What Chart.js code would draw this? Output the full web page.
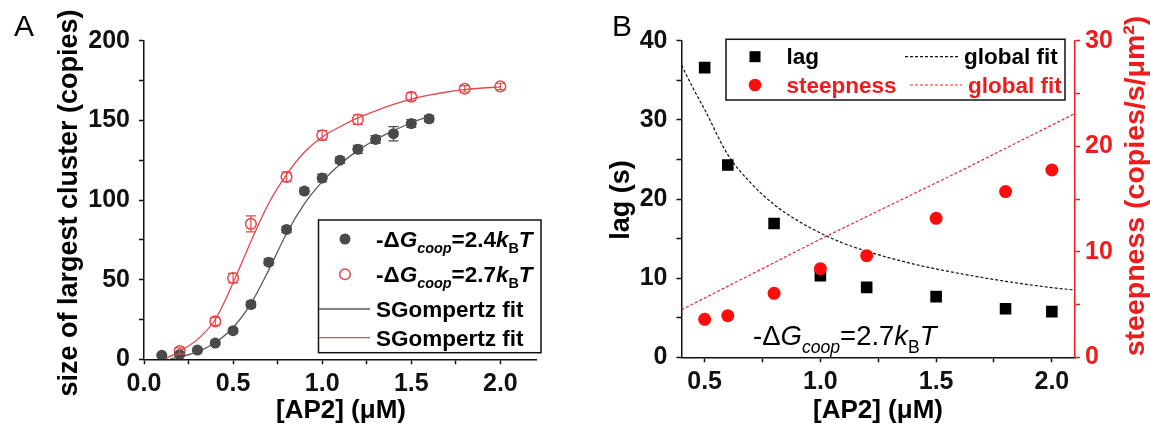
<!DOCTYPE html>
<html>
<head>
<meta charset="utf-8">
<script src="https://cdn.jsdelivr.net/npm/chart.js@4.4.0/dist/chart.umd.min.js"></script>
<style>
  html, body { margin: 0; padding: 0; background: #fff; }
  #wrap { position: relative; width: 1150px; height: 433px; }
  canvas { position: absolute; top: 0; }
</style>
</head>
<body>
<div id="wrap">
  <canvas id="chartA" width="575" height="433" style="left:0"></canvas>
  <canvas id="chartB" width="575" height="433" style="left:575px"></canvas>
</div>
<script>
// ---- panel A: size of largest cluster vs [AP2] ----
const conc24 = [0.1, 0.2, 0.3, 0.4, 0.5, 0.6, 0.7, 0.8, 0.9, 1.0, 1.1, 1.2, 1.3, 1.4, 1.5, 1.6];
const size24 = [2.5, 3, 5.8, 10.2, 18, 34.4, 61, 81.5, 105.6, 113.8, 125, 131.8, 138, 141.6, 148, 151];
const err24  = [1, 1, 1, 1.2, 1.5, 2, 2, 2, 2, 2.5, 2, 2.5, 2.5, 4.5, 2.5, 2];
const conc27 = [0.2, 0.4, 0.5, 0.6, 0.8, 1.0, 1.2, 1.5, 1.8, 2.0];
const size27 = [5.2, 23.8, 51, 85, 114.5, 140.6, 150.5, 164.8, 169.8, 171.3];
const err27  = [2, 2.5, 3, 5, 3, 3, 3, 2.5, 2, 2];
// SGompertz fit curves
const fitConc24 = [0.15, 0.2, 0.3, 0.4, 0.5, 0.6, 0.7, 0.8, 0.9, 1.0, 1.1, 1.2, 1.3, 1.4, 1.5, 1.6];
const fitSize24 = [0.4, 1.5, 4.6, 10.5, 20, 35, 56, 79, 97.5, 111.5, 122.5, 131, 138, 143.5, 148.5, 152.5];
const fitConc27 = [0.12, 0.2, 0.3, 0.4, 0.5, 0.6, 0.7, 0.8, 0.9, 1.0, 1.1, 1.2, 1.3, 1.4, 1.5, 1.6, 1.7, 1.8, 1.9, 2.0];
const fitSize27 = [0.4, 5, 12.5, 25, 48, 74, 98, 116, 130, 139.5, 146, 151.5, 156, 160, 163.3, 165.8, 167.8, 169.3, 170.3, 171];
const xMajorA = [0, 0.5, 1.0, 1.5, 2.0];
const xMinorA = [0.25, 0.75, 1.25, 1.75];
const yMajorA = [0, 50, 100, 150, 200];
const yMinorA = [25, 75, 125, 175];

// ---- panel B: lag and steepness vs [AP2] ----
const concB = [0.5, 0.6, 0.8, 1.0, 1.2, 1.5, 1.8, 2.0];
const lag = [36.6, 24.3, 16.9, 10.3, 8.84, 7.66, 6.14, 5.77];
const steepness = [3.6, 3.94, 6.06, 8.4, 9.63, 13.17, 15.7, 17.75];
const lagFitConc = [0.4, 0.45, 0.5, 0.6, 0.7, 0.8, 0.9, 1.0, 1.1, 1.2, 1.4, 1.6, 1.8, 2.0, 2.1];
const lagFit = [36.9, 34.0, 31.3, 25.6, 22.0, 19.3, 17.3, 15.7, 14.4, 13.4, 11.8, 10.6, 9.6, 8.8, 8.5];
const steepFitConc = [0.4, 1.0, 1.6, 2.1];
const steepFit = [4.5, 11.2, 17.6, 23.1];
const xMajorB = [0.5, 1.0, 1.5, 2.0];
const xMinorB = [0.75, 1.25, 1.75];
const yMajorB = [0, 10, 20, 30, 40];
const yMinorB = [5, 15, 25, 35];
const y2MajorB = [0, 10, 20, 30];
const y2MinorB = [5, 15, 25];

const FONT = "'Liberation Sans', Arial, sans-serif";
Chart.defaults.font.family = FONT;

const pts = (xs, ys) => xs.map((x, i) => ({x: x, y: ys[i]}));

function axis(major, minor, digits, color, pad) {
  const all = major.concat(minor).sort((a, b) => a - b);
  return {
    type: 'linear',
    afterBuildTicks: (s) => { s.ticks = all.map(v => ({value: v})); },
    ticks: {
      autoSkip: false, maxRotation: 0, padding: pad, color: color,
      font: {size: 25, weight: 'bold'},
      callback: (v) => major.includes(v) ? v.toFixed(digits) : ''
    },
    grid: {drawOnChartArea: false, drawTicks: true, tickLength: 5, tickWidth: 1.5, tickColor: color},
    border: {display: true, color: color, width: 1.5}
  };
}

// vertical error bars for datasets carrying an `errors` array
const errorBars = {
  id: 'errorBars',
  afterDatasetsDraw(chart) {
    const ctx = chart.ctx;
    chart.data.datasets.forEach((ds, i) => {
      if (!ds.errors) return;
      const meta = chart.getDatasetMeta(i);
      const ys = chart.scales[meta.yAxisID];
      ctx.save();
      ctx.strokeStyle = ds.errorColor;
      ctx.lineWidth = 1.2;
      meta.data.forEach((pt, j) => {
        const v = ds.data[j].y, e = ds.errors[j];
        const t = ys.getPixelForValue(v + e), b = ys.getPixelForValue(v - e);
        ctx.beginPath();
        ctx.moveTo(pt.x, t); ctx.lineTo(pt.x, b);
        ctx.moveTo(pt.x - 5, t); ctx.lineTo(pt.x + 5, t);
        ctx.moveTo(pt.x - 5, b); ctx.lineTo(pt.x + 5, b);
        ctx.stroke();
      });
      ctx.restore();
    });
  }
};

// text with italic / subscript pieces, left aligned on a baseline
function drawRich(ctx, segs, x, y, size, weight, color) {
  ctx.save();
  ctx.fillStyle = color;
  ctx.textAlign = 'left';
  ctx.textBaseline = 'alphabetic';
  segs.forEach(s => {
    const sz = s.sub ? size * 0.64 : size;
    ctx.font = (s.it ? 'italic ' : '') + weight + ' ' + sz + 'px ' + FONT;
    ctx.fillText(s.t, x, y + (s.sub ? size * 0.28 : 0));
    x += ctx.measureText(s.t).width;
  });
  ctx.restore();
}

function dG(val) {
  return [{t: '-\u0394'}, {t: 'G', it: true}, {t: 'coop', it: true, sub: true},
          {t: '=' + val}, {t: 'k', it: true}, {t: 'B', sub: true}, {t: 'T', it: true}];
}

function drawText(ctx, text, x, y, size, weight, color, rot, align) {
  ctx.save();
  ctx.translate(x, y);
  ctx.rotate(rot || 0);
  ctx.font = weight + ' ' + size + 'px ' + FONT;
  ctx.fillStyle = color;
  ctx.textAlign = align || 'center';
  ctx.textBaseline = 'middle';
  ctx.fillText(text, 0, 0);
  ctx.restore();
}

const decorA = {
  id: 'decorA',
  afterDraw(chart) {
    const ctx = chart.ctx;
    drawText(ctx, 'A', 14, 28, 30, 'normal', '#000', 0, 'left');
    drawText(ctx, 'size of largest cluster (copies)', 70, 203, 27, 'bold', '#000', -Math.PI / 2);
    drawText(ctx, '[AP2] (\u03bcM)', 341, 411, 26, 'bold', '#000');
    // legend
    ctx.save();
    ctx.strokeStyle = '#111';
    ctx.lineWidth = 1.5;
    ctx.strokeRect(318.5, 220, 222.5, 132.7);
    ctx.fillStyle = '#4a4a4a';
    ctx.beginPath(); ctx.arc(345, 239, 5.5, 0, Math.PI * 2); ctx.fill();
    ctx.strokeStyle = '#e8464b';
    ctx.beginPath(); ctx.arc(345, 274.3, 5.3, 0, Math.PI * 2); ctx.stroke();
    ctx.lineWidth = 1.3;
    ctx.strokeStyle = '#5a5a5a';
    ctx.beginPath(); ctx.moveTo(319, 309); ctx.lineTo(370, 309); ctx.stroke();
    ctx.strokeStyle = '#e8464b';
    ctx.beginPath(); ctx.moveTo(319, 337.7); ctx.lineTo(370, 337.7); ctx.stroke();
    ctx.restore();
    drawRich(ctx, dG('2.4'), 376, 247, 22.5, 'bold', '#000');
    drawRich(ctx, dG('2.7'), 376, 282, 22.5, 'bold', '#000');
    drawRich(ctx, [{t: 'SGompertz fit'}], 376, 317.3, 22.5, 'bold', '#000');
    drawRich(ctx, [{t: 'SGompertz fit'}], 376, 345.5, 22.5, 'bold', '#000');
  }
};

const decorB = {
  id: 'decorB',
  afterDraw(chart) {
    const ctx = chart.ctx;
    drawText(ctx, 'B', 37, 28, 30, 'normal', '#000', 0, 'left');
    drawText(ctx, 'lag (s)', 47, 200, 27, 'bold', '#000', -Math.PI / 2);
    drawText(ctx, 'steepness (copies/s/\u03bcm\u00b2)', 561, 186, 28.5, 'bold', '#ee1c1c', -Math.PI / 2);
    drawText(ctx, '[AP2] (\u03bcM)', 303, 411, 26, 'bold', '#000');
    drawRich(ctx, dG('2.7'), 178, 345, 27.5, 'normal', '#000');
    // legend
    ctx.save();
    ctx.fillStyle = '#fff';
    ctx.fillRect(151, 39.3, 339, 60.7);
    ctx.strokeStyle = '#111';
    ctx.lineWidth = 1.5;
    ctx.strokeRect(151, 39.3, 339, 60.7);
    ctx.fillStyle = '#000';
    ctx.fillRect(174.5, 51.2, 11, 11);
    ctx.fillStyle = '#ff0d0d';
    ctx.beginPath(); ctx.arc(180, 85, 6.3, 0, Math.PI * 2); ctx.fill();
    ctx.lineWidth = 1.2;
    ctx.setLineDash([3, 2]);
    ctx.strokeStyle = '#111';
    ctx.beginPath(); ctx.moveTo(330, 56.7); ctx.lineTo(383, 56.7); ctx.stroke();
    ctx.strokeStyle = '#e0282d';
    ctx.beginPath(); ctx.moveTo(335, 85); ctx.lineTo(387, 85); ctx.stroke();
    ctx.restore();
    drawRich(ctx, [{t: 'lag'}], 211.5, 64, 22.5, 'bold', '#000');
    drawRich(ctx, [{t: 'global fit'}], 389, 64, 22.5, 'bold', '#000');
    drawRich(ctx, [{t: 'steepness'}], 211.5, 92.5, 22.5, 'bold', '#ee1c1c');
    drawRich(ctx, [{t: 'global fit'}], 393, 92.5, 22.5, 'bold', '#ee1c1c');
  }
};

const common = {
  responsive: false,
  animation: false,
  events: [],
  plugins: {legend: {display: false}, tooltip: {enabled: false}}
};

new Chart(document.getElementById('chartA'), {
  type: 'scatter',
  data: {
    datasets: [
      {data: pts(conc24, size24), errors: err24, errorColor: '#4a4a4a',
       pointRadius: 5.5, pointBackgroundColor: '#4a4a4a', pointBorderWidth: 0},
      {data: pts(conc27, size27), errors: err27, errorColor: '#e8464b',
       pointRadius: 5.3, pointBackgroundColor: 'rgba(0,0,0,0)', pointBorderColor: '#e8464b', pointBorderWidth: 1.5},
      {data: pts(fitConc24, fitSize24), showLine: true, pointRadius: 0, borderColor: '#5a5a5a',
       borderWidth: 1.3, cubicInterpolationMode: 'monotone'},
      {data: pts(fitConc27, fitSize27), showLine: true, pointRadius: 0, borderColor: '#e8464b',
       borderWidth: 1.3, cubicInterpolationMode: 'monotone'}
    ]
  },
  options: Object.assign({}, common, {
    layout: {padding: {top: 40.7, right: 39, left: 0, bottom: 0}},
    scales: {
      x: Object.assign(axis(xMajorA, xMinorA, 1, '#111', 5), {min: 0, max: 2.2, afterFit: s => { s.height = 73.7; }}),
      y: Object.assign(axis(yMajorA, yMinorA, 0, '#111', 9), {min: 0, max: 200, afterFit: s => { s.width = 144; }})
    }
  }),
  plugins: [errorBars, decorA]
});

new Chart(document.getElementById('chartB'), {
  type: 'scatter',
  data: {
    datasets: [
      {data: pts(concB, steepness), yAxisID: 'y2', pointRadius: 6.5,
       pointBackgroundColor: '#ff0d0d', pointBorderWidth: 0},
      {data: pts(concB, lag), yAxisID: 'y', pointStyle: 'rect', pointRadius: 8.2,
       pointBackgroundColor: '#000', pointBorderWidth: 0},
      {data: pts(lagFitConc, lagFit), yAxisID: 'y', showLine: true, pointRadius: 0, borderColor: '#111',
       borderWidth: 1.2, borderDash: [3, 2], cubicInterpolationMode: 'monotone'},
      {data: pts(steepFitConc, steepFit), yAxisID: 'y2', showLine: true, pointRadius: 0, borderColor: '#e0282d',
       borderWidth: 1.2, borderDash: [3, 2]}
    ]
  },
  options: Object.assign({}, common, {
    layout: {padding: {top: 40.7, right: 0, left: 0, bottom: 0}},
    scales: {
      x: Object.assign(axis(xMajorB, xMinorB, 1, '#111', 5), {min: 0.4, max: 2.1, afterFit: s => { s.height = 75.7; }}),
      y: Object.assign(axis(yMajorB, yMinorB, 0, '#111', 9), {min: 0, max: 40, position: 'left', afterFit: s => { s.width = 106.5; }}),
      y2: Object.assign(axis(y2MajorB, y2MinorB, 0, '#ee1c1c', 5), {min: 0, max: 30, position: 'right', afterFit: s => { s.width = 75; }})
    }
  }),
  plugins: [decorB]
});
</script>
</body>
</html>
